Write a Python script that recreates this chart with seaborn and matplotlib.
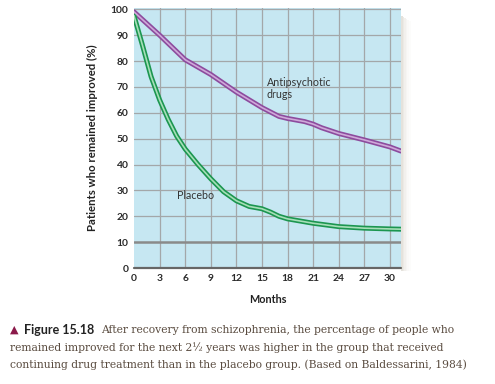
import matplotlib
matplotlib.use("Agg")
import matplotlib.pyplot as plt
import matplotlib.patches as mpatches
import seaborn as sns

# data
drug_months = [0, 3, 6, 9, 12, 15, 17, 18, 20, 21, 22, 24, 27, 30, 31.3]
drug_pct = [99, 90, 80.5, 74.8, 68, 62, 58.6, 57.8, 56.6, 55.6, 54.2, 52, 49.5, 46.8, 45.2]

placebo_months = [0, 1, 2, 3, 4, 5, 6, 7.5, 9, 10.5, 12, 13.5, 15, 16, 17, 18, 21, 24, 27, 30, 31.3]
placebo_pct = [97.5, 86, 74, 65, 57.5, 51, 46, 40, 34.5, 29.5, 26, 23.8, 22.9, 21.6, 20, 19, 17.3, 16, 15.4, 15.1, 15]

x_ticks = [0, 3, 6, 9, 12, 15, 18, 21, 24, 27, 30]
y_ticks = [0, 10, 20, 30, 40, 50, 60, 70, 80, 90, 100]

sns.set_style("white")
plt.rcParams['font.family'] = ['Lato', 'DejaVu Sans']

fig = plt.figure(figsize=(4.95, 3.84), dpi=100)
ax = fig.add_axes([134 / 495, 1 - 268 / 384, 267 / 495, 260 / 384])

# drop shadow to the right of the panel
for i, a in enumerate([0.22, 0.16, 0.11, 0.07, 0.04, 0.02]):
    fig.patches.append(mpatches.Rectangle(
        ((401 + i * 1.6) / 495, 1 - (268 + 3) / 384), 1.6 / 495, (255 - i) / 384,
        transform=fig.transFigure, color="#8a7f60", alpha=a, lw=0, zorder=0))

ax.set_facecolor("#c6e7f2")

# grid
for xv in x_ticks[1:]:
    ax.axvline(xv, color="#a3a7a9", lw=0.9, zorder=1)
for yv in y_ticks[1:]:
    if yv == 10:
        ax.axhline(yv, color="#8a8a8a", lw=1.8, zorder=1)
    else:
        ax.axhline(yv, color="#a3a7a9", lw=0.9, zorder=1)
ax.axhline(0, color="#666666", lw=1.6, zorder=2, clip_on=False)

# double-stroke lines
sns.lineplot(x=drug_months, y=drug_pct, color="#8d4c9e", lw=3.6, ax=ax, zorder=3)
sns.lineplot(x=drug_months, y=drug_pct, color="#cfa9da", lw=1.2, ax=ax, zorder=4)
sns.lineplot(x=placebo_months, y=placebo_pct, color="#1c9650", lw=3.6, ax=ax, zorder=3)
sns.lineplot(x=placebo_months, y=placebo_pct, color="#a6dfb8", lw=1.2, ax=ax, zorder=4)

ax.set_xlim(0, 31.3)
ax.set_ylim(0, 100.5)
ax.set_xticks(x_ticks)
ax.set_yticks(y_ticks)
ax.tick_params(axis="both", length=0, pad=4, labelsize=7.4, colors="#2a2a2a")
for lab in ax.get_xticklabels() + ax.get_yticklabels():
    lab.set_fontweight("bold")
for s in ax.spines.values():
    s.set_visible(False)

ax.set_xlabel("Months", fontsize=7.8, fontweight="bold", color="#222222", labelpad=8)
ax.set_ylabel("Patients who remained improved (%)", fontsize=8.2, fontweight="bold",
              color="#222222", labelpad=9)

ax.text(15.55, 74, "Antipsychotic\ndrugs", fontsize=7.7, color="#333333",
        va="top", ha="left", linespacing=1.2, zorder=5)
ax.text(5.05, 28.2, "Placebo", fontsize=7.7, color="#333333",
        va="center", ha="left", zorder=5)

# caption
fig.text(10 / 495, 1 - 330 / 384, "\u25B2", fontsize=8, color="#8b1a4a",
         va="center", ha="left", family="DejaVu Sans")
fig.text(24 / 495, 1 - 330 / 384, "Figure 15.18", fontsize=9, fontweight="bold",
         color="#222222", va="center", ha="left")
cap_kw = dict(fontsize=7.75, color="#5a4c40", va="center", ha="left", family="DejaVu Serif")
fig.text(101 / 495, 1 - 330 / 384,
         "After recovery from schizophrenia, the percentage of people who", **cap_kw)
fig.text(10 / 495, 1 - 347.5 / 384,
         "remained improved for the next 2\u00BD years was higher in the group that received", **cap_kw)
fig.text(10 / 495, 1 - 365 / 384,
         "continuing drug treatment than in the placebo group. (Based on Baldessarini, 1984)", **cap_kw)

fig.savefig("out.png", dpi=100)
